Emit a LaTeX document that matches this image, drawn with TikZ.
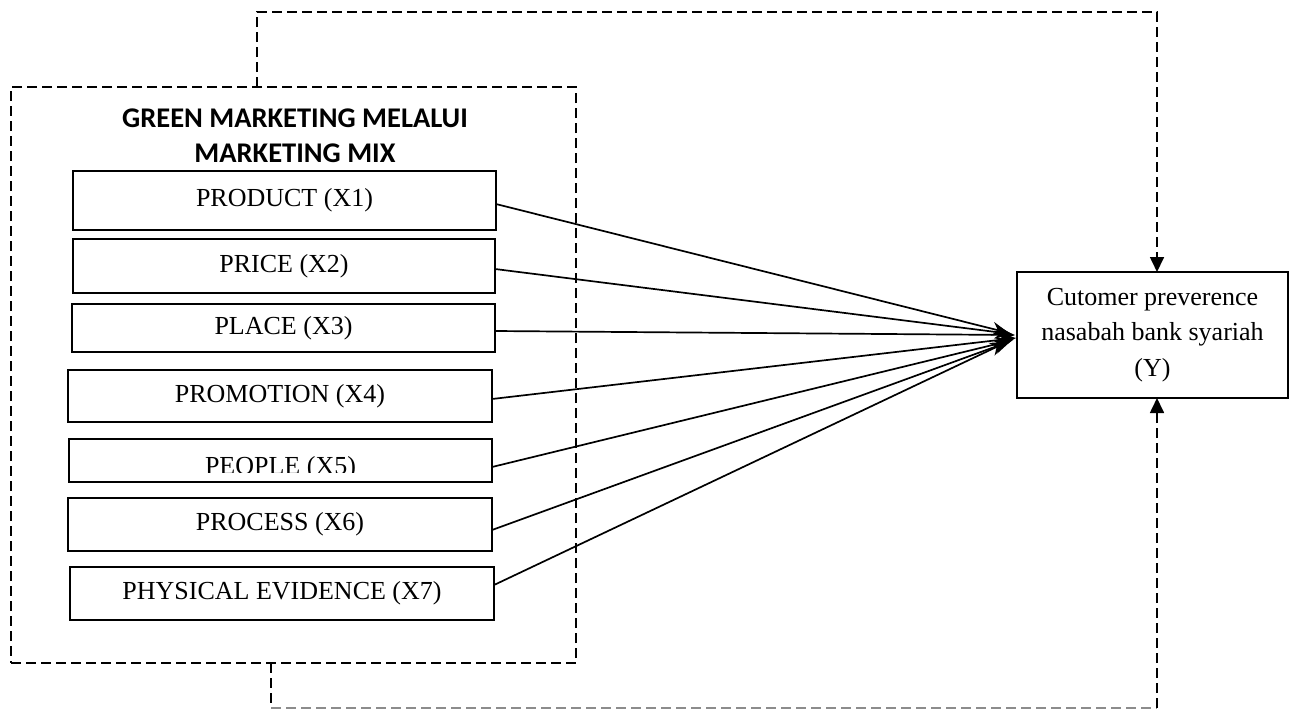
\documentclass[tikz,border=0pt]{standalone}
\usepackage{fontspec}
\setmainfont{Liberation Serif}
\newfontfamily\titlefont{Carlito}
\usetikzlibrary{arrows.meta}
\begin{document}
\begin{tikzpicture}[x=1pt,y=-1pt,
  boxtxt/.style={font=\fontsize{26}{35.5}\selectfont},
  box/.style={draw, line width=2pt, inner sep=0pt, outer sep=0pt, boxtxt},
  dashline/.style={line width=1.7pt, dash pattern=on 10pt off 5pt},
  conn/.style={line width=1.7pt, -{Stealth[length=17pt,width=14pt]}},
  dconn/.style={dashline, -{Triangle[length=15pt,width=14pt]}}]
\useasboundingbox (0,0) rectangle (1290,710);
% group frame
\node[draw, dashline, minimum width=565pt, minimum height=576pt, inner sep=0pt, outer sep=0pt] (grp) at (293.5,375) {};
\node[font=\titlefont\bfseries\fontsize{28.5}{35}\selectfont, align=center] (title) at (295,136) {GREEN MARKETING MELALUI\\MARKETING MIX};
% variable boxes
\node[box, minimum width=423pt, minimum height=59pt] (x1) at (284.5,200.5) {PRODUCT (X1)};
\node[box, minimum width=422pt, minimum height=54pt] (x2) at (284,266) {PRICE (X2)};
\node[box, minimum width=423pt, minimum height=48pt] (x3) at (283.5,328) {PLACE (X3)};
\node[box, minimum width=424pt, minimum height=52pt] (x4) at (280,396) {PROMOTION (X4)};
\node[box, minimum width=423pt, minimum height=43pt] (x5) at (280.5,460.5) {};
\begin{scope}
\clip (69,439) rectangle (492,472);
\node[boxtxt, anchor=base, inner sep=0pt] (x5t) at (280.5,474) {PEOPLE (X5)};
\end{scope}
\node[box, minimum width=424pt, minimum height=53pt] (x6) at (280,524.5) {PROCESS (X6)};
\node[box, minimum width=424pt, minimum height=53pt] (x7) at (282,593.5) {PHYSICAL EVIDENCE (X7)};
% dependent variable
\node[box, minimum width=271pt, minimum height=126pt, align=center] (y) at (1152.5,335) {Cutomer preverence\\nasabah bank syariah\\(Y)};
% arrows
\draw[conn] ([yshift=-3.5pt]x1.east) -- ([xshift=-8pt,yshift=2pt]y.west);
\draw[conn] ([yshift=-3pt]x2.east) -- ([xshift=-5pt,yshift=1pt]y.west);
\draw[conn] ([yshift=-3pt]x3.east) -- ([xshift=-2pt]y.west);
\draw[conn] ([yshift=-3pt]x4.east) -- ([xshift=-1pt,yshift=-3pt]y.west);
\draw[conn] ([yshift=-6.5pt]x5.east) -- ([xshift=-4pt,yshift=-5pt]y.west);
\draw[conn] ([yshift=-5.5pt]x6.east) -- ([xshift=-6pt,yshift=-6pt]y.west);
\draw[conn] ([yshift=8.5pt]x7.east) -- ([xshift=-10pt,yshift=-7pt]y.west);
% dashed connectors
\coordinate (tl) at (257,12);
\coordinate (tr) at (1157,12);
\coordinate (bl) at (271,708);
\coordinate (br) at (1157,708);
\draw[dconn] ([xshift=-36.5pt]grp.north) -- (tl) -- (tr) -- (tr |- y.north);
\draw[dashline] ([xshift=-22.5pt]grp.south) -- (bl);
\draw[dashline, black!45, line width=1.2pt] (bl) -- (br);
\draw[dconn] (br) -- (br |- y.south);
\end{tikzpicture}
\end{document}
